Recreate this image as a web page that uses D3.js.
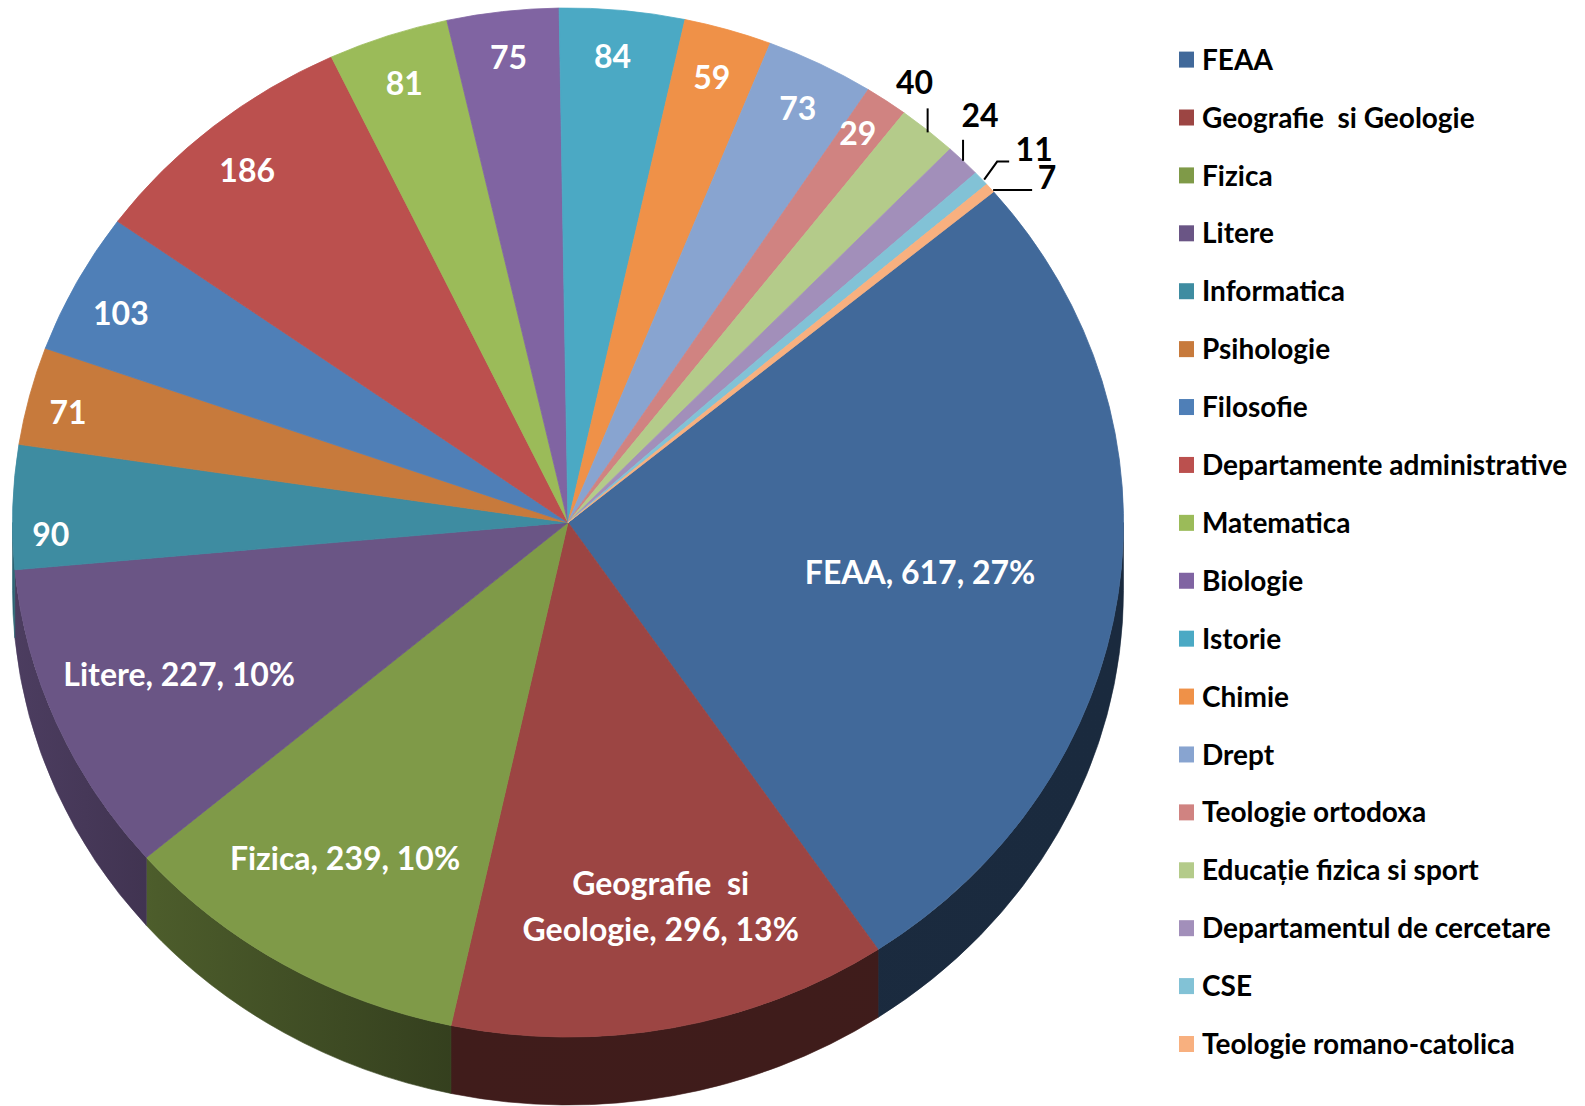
<!DOCTYPE html>
<html>
<head>
<meta charset="utf-8">
<script src="https://cdn.jsdelivr.net/npm/d3@7"></script>
<style>
  body { margin: 0; background: #fff; }
  svg text { font-family: Lato, "Open Sans", sans-serif; font-weight: bold; white-space: pre; }
</style>
</head>
<body>
<div id="chart"></div>
<script>
const categories = ["FEAA", "Geografie  si Geologie", "Fizica", "Litere", "Informatica", "Psihologie",
  "Filosofie", "Departamente administrative", "Matematica", "Biologie", "Istorie", "Chimie",
  "Drept", "Teologie ortodoxa", "Educație fizica si sport", "Departamentul de cercetare", "CSE",
  "Teologie romano-catolica"];
const values = [617, 296, 239, 227, 90, 71, 103, 186, 81, 75, 84, 59, 73, 29, 40, 24, 11, 7];
const colors = ["#41699a", "#9c4543", "#7f9a48", "#6a5585", "#3e8ca1", "#c77a3c",
  "#4f7fb7", "#bb504e", "#9bbb59", "#8064a2", "#4ba9c4", "#ef9148",
  "#88a4d0", "#d08381", "#b4cb8a", "#a28fba", "#82c2d6", "#f8b07f"];

const WIDTH = 1585;
const HEIGHT = 1106;
const svg = d3.select("#chart").append("svg").attr("width", WIDTH).attr("height", HEIGHT);

// geometrie pie 3D (elipsa + grosime)
const cx = 568, cy = 522.5, rx = 555.5, ry = 514.5, depth = 68;
const total = d3.sum(values);
const data = categories.map((c, i) => ({ name: c, value: values[i], color: colors[i] }));

const start = 50 * Math.PI / 180;
const pie = d3.pie().sort(null).value(d => d.value).startAngle(start).endAngle(start + 2 * Math.PI);
const arcs = pie(data);

const pt = (a, r = 1, dy = 0) => [cx + rx * r * Math.sin(a), cy - ry * r * Math.cos(a) + dy];

// peretii laterali (doar jumatatea din fata)
const defs = svg.append("defs");
const shade = [[0, 0.72], [0.13, 0.6], [0.4, 0.41], [1, 0.4]];
arcs.forEach((d, i) => {
  const g = defs.append("linearGradient").attr("id", "wall" + i)
    .attr("gradientUnits", "userSpaceOnUse")
    .attr("x1", cx - rx).attr("x2", cx + rx).attr("y1", 0).attr("y2", 0);
  const c = d3.rgb(d.data.color);
  shade.forEach(([o, k]) => {
    g.append("stop").attr("offset", o).attr("stop-color", d3.rgb(c.r * k, c.g * k, c.b * k));
  });
});

const walls = svg.append("g");
arcs.forEach((d, i) => {
  [0, 2 * Math.PI].forEach(off => {
    const a0 = Math.max(d.startAngle, Math.PI / 2 + off);
    const a1 = Math.min(d.endAngle, 3 * Math.PI / 2 + off);
    if (a1 <= a0) return;
    const p0 = pt(a0), p1 = pt(a1), q0 = pt(a0, 1, depth), q1 = pt(a1, 1, depth);
    walls.append("path")
      .attr("d", `M${p0}A${rx},${ry} 0 0 1 ${p1}L${q1}A${rx},${ry} 0 0 0 ${q0}Z`)
      .attr("fill", `url(#wall${i})`)
      .attr("stroke", `url(#wall${i})`)
      .attr("stroke-width", 0.6);
  });
});

// fata de sus
const arc = d3.arc().innerRadius(0).outerRadius(rx);
svg.append("g")
  .attr("transform", `translate(${cx},${cy}) scale(1,${ry / rx})`)
  .selectAll("path")
  .data(arcs)
  .join("path")
  .attr("d", arc)
  .attr("fill", d => d.data.color)
  .attr("stroke", d => d.data.color)
  .attr("stroke-width", 0.8)
  .attr("vector-effect", "non-scaling-stroke");

// etichete exterioare cu linii de legatura
const outside = {
  "Educație fizica si sport": { text: [-13, -48], line: [[0, 2], [0, -22]] },
  "Departamentul de cercetare": { text: [17, -45], line: [[0, 0], [0, -21]] },
  "CSE": { text: [53, -29], line: [[3, 1], [16, -17], [28, -17]] },
  "Teologie romano-catolica": { text: [57, -11], line: [[3, 2], [42, 2]] }
};
// mici ajustari ale etichetelor interioare (cum le-a asezat Excel)
const nudge = {
  "FEAA": [0, 4], "Geografie  si Geologie": [13, 0], "Fizica": [-7, 0],
  "Informatica": [-12, 26], "Psihologie": [-10, 5], "Filosofie": [0, 9],
  "Departamente administrative": [2, 8], "Matematica": [0, 4], "Istorie": [-5, 0],
  "Chimie": [-2, 3], "Drept": [0, 3], "Teologie ortodoxa": [0, -5]
};

const labels = svg.append("g").attr("font-size", 32);
arcs.forEach(d => {
  const mid = (d.startAngle + d.endAngle) / 2;
  const share = d.value / total;
  const o = outside[d.data.name];
  if (o) {
    const [ax, ay] = pt(mid);
    labels.append("path")
      .attr("d", d3.line()(o.line.map(([x, y]) => [ax + x, ay + y])))
      .attr("fill", "none").attr("stroke", "#000").attr("stroke-width", 2);
    labels.append("text")
      .attr("x", ax + o.text[0]).attr("y", ay + o.text[1]).attr("dy", "0.36em")
      .attr("text-anchor", "middle").attr("fill", "#000")
      .text(d.value);
    return;
  }
  const full = share >= 0.09;
  const r = share > 0.2 ? 0.64 : full ? 0.76 : 0.91;
  const n = nudge[d.data.name] || [0, 0];
  let [x, y] = pt(mid, r);
  x += n[0]; y += n[1];
  const str = full ? `${d.data.name}, ${d.value}, ${Math.round(share * 100)}%` : String(d.value);
  const t = labels.append("text").attr("text-anchor", "middle").attr("fill", "#fff");

  // impartire pe randuri (max ~300px)
  const words = str.split(" ");
  const lines = [];
  let cur = [];
  const probe = t.append("tspan");
  words.forEach(w => {
    const test = cur.concat([w]).join(" ");
    probe.text(test);
    if (cur.length && probe.node().getComputedTextLength() > 300) {
      lines.push(cur.join(" "));
      cur = [w];
    } else cur.push(w);
  });
  lines.push(cur.join(" "));
  probe.remove();

  const lh = 46;
  lines.forEach((ln, k) => {
    t.append("tspan")
      .attr("x", x)
      .attr("y", y + (k - (lines.length - 1) / 2) * lh)
      .attr("dy", "0.36em")
      .text(ln);
  });
});

// legenda
const legend = svg.append("g").attr("transform", "translate(1179,0)");
const rowY = d3.scalePoint().domain(categories).range([59.6, 1044]);
const item = legend.selectAll("g").data(data).join("g")
  .attr("transform", d => `translate(0,${rowY(d.name)})`);
item.append("rect").attr("x", 0).attr("y", -8).attr("width", 15).attr("height", 16)
  .attr("fill", d => d.color);
item.append("text").attr("x", 23).attr("dy", "0.36em").attr("font-size", 28).attr("fill", "#000")
  .text(d => d.name);
</script>
</body>
</html>
